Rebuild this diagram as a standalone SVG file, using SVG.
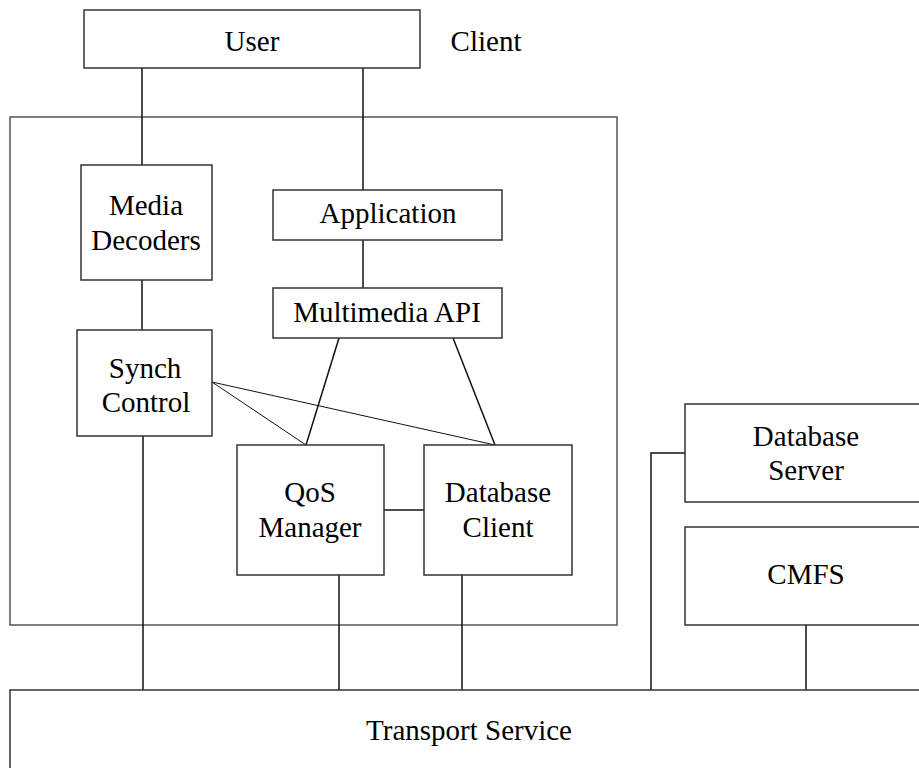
<svg xmlns="http://www.w3.org/2000/svg" width="919" height="768" viewBox="0 0 919 768">
<style>
.box{fill:#fff;stroke:#333;stroke-width:1.5}
.frame{fill:none;stroke:#555;stroke-width:1.5}
.t{font-family:"Liberation Serif","Times New Roman",serif;font-size:29px;fill:#000;text-anchor:middle}
.c line,.c polyline{stroke:#111;stroke-width:1.5;fill:none}
.c .thin{stroke-width:1}
</style>
<rect width="919" height="768" fill="#fff"/>
<rect id="client-frame" class="frame" x="10" y="117" width="607" height="508"/>
<g class="c" id="connectors">
<line x1="142" y1="68" x2="142" y2="165"/>
<line x1="363" y1="68" x2="363" y2="190"/>
<line x1="363" y1="240" x2="363" y2="288"/>
<line x1="142" y1="280" x2="142" y2="330"/>
<line x1="339" y1="338" x2="306" y2="445"/>
<line x1="453" y1="338" x2="495" y2="445"/>
<line class="thin" x1="212" y1="382" x2="306" y2="445"/>
<line class="thin" x1="212" y1="382" x2="495" y2="445"/>
<line x1="384" y1="510" x2="424" y2="510"/>
<line x1="143" y1="436" x2="143" y2="690"/>
<line x1="339" y1="575" x2="339" y2="690"/>
<line x1="462" y1="575" x2="462" y2="690"/>
<polyline points="685,453 651,453 651,690"/>
<line x1="806" y1="625" x2="806" y2="690"/>
</g>
<g id="user"><rect class="box" x="84" y="10" width="336" height="58"/><text class="t" x="252" y="51">User</text></g>
<text class="t" x="486" y="51">Client</text>
<g id="media-decoders"><rect class="box" x="81" y="165" width="131" height="115"/><text class="t" x="146" y="215">Media</text><text class="t" x="146" y="250">Decoders</text></g>
<g id="application"><rect class="box" x="273" y="190" width="229" height="50"/><text class="t" x="388" y="223">Application</text></g>
<g id="multimedia-api"><rect class="box" x="273" y="288" width="229" height="50"/><text class="t" x="387" y="322">Multimedia API</text></g>
<g id="synch-control"><rect class="box" x="77" y="330" width="135" height="106"/><text class="t" x="145" y="378">Synch</text><text class="t" x="146" y="412">Control</text></g>
<g id="qos-manager"><rect class="box" x="237" y="445" width="147" height="130"/><text class="t" x="310" y="502">QoS</text><text class="t" x="310" y="537">Manager</text></g>
<g id="database-client"><rect class="box" x="424" y="445" width="148" height="130"/><text class="t" x="498" y="502">Database</text><text class="t" x="498" y="537">Client</text></g>
<g id="database-server"><rect class="box" x="685" y="404" width="250" height="98"/><text class="t" x="806" y="446">Database</text><text class="t" x="806" y="480">Server</text></g>
<g id="cmfs"><rect class="box" x="685" y="527" width="250" height="98"/><text class="t" x="806" y="584">CMFS</text></g>
<g id="transport-service"><rect class="box" x="10" y="690" width="925" height="90"/><text class="t" x="469" y="740">Transport Service</text></g>
</svg>
